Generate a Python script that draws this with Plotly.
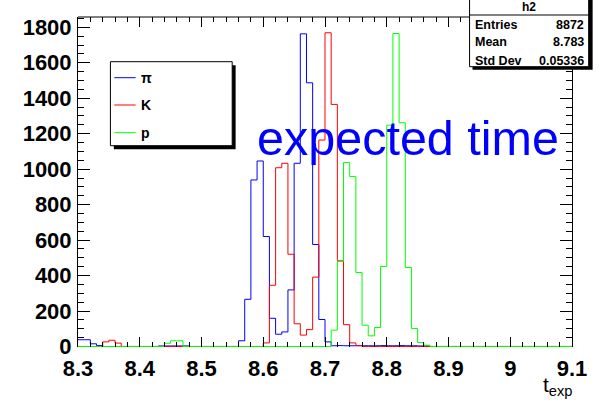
import numpy as np
import plotly.graph_objects as go

# ---------------- data ----------------
x_min, x_max, bin_width = 8.30, 9.10, 0.01
tick_values = [8.3, 8.4, 8.5, 8.6, 8.7, 8.8, 8.9, 9.0, 9.1]
tick_labels = ["8.3", "8.4", "8.5", "8.6", "8.7", "8.8", "8.9", "9", "9.1"]
y_tick_values = [0, 200, 400, 600, 800, 1000, 1200, 1400, 1600, 1800]

series_names = ["\u03c0", "K", "p"]
series_colors = ["#0000ff", "#ff0000", "#00ff00"]

pi_counts = [38, 38, 15, 5, 0, 0, 0, 0, 0, 0,
             0, 0, 0, 3, 3, 3, 3, 3, 0, 0,
             0, 0, 0, 0, 0, 0, 32, 266, 939, 1046,
             620, 159, 69, 82, 319, 1033, 1763, 1487, 575, 152,
             26, 4, 5, 4, 4, 5, 4, 4, 4, 5,
             4, 4, 5, 4, 4, 3, 3, 0, 0, 0,
             0, 0, 0, 0, 0, 0, 0, 0, 0, 0,
             0, 0, 0, 0, 0, 0, 0, 0, 0, 0]
k_counts = [0, 0, 0, 0, 26, 35, 19, 0, 0, 0,
            0, 0, 0, 0, 0, 0, 0, 0, 0, 0,
            0, 0, 0, 0, 0, 0, 0, 0, 0, 0,
            20, 345, 1008, 1033, 520, 128, 64, 95, 391, 1164,
            1769, 1365, 483, 123, 20, 4, 0, 0, 0, 0,
            0, 0, 0, 0, 0, 0, 0, 0, 0, 0,
            0, 0, 0, 0, 0, 0, 0, 0, 0, 0,
            0, 0, 0, 0, 0, 0, 0, 0, 0, 0]
p_counts = [0, 0, 0, 0, 0, 0, 0, 0, 0, 0,
            0, 0, 0, 0, 18, 32, 32, 0, 0, 0,
            0, 0, 0, 0, 0, 0, 0, 0, 0, 0,
            0, 0, 0, 0, 0, 0, 0, 0, 0, 0,
            0, 92, 480, 1037, 958, 417, 120, 60, 107, 451,
            1248, 1765, 1262, 445, 101, 22, 7, 0, 0, 0,
            0, 0, 0, 0, 0, 0, 0, 0, 0, 0,
            0, 0, 0, 0, 0, 0, 0, 0, 0, 0]

stats_title = "h2"
stats_labels = ["Entries", "Mean", "Std Dev"]
stats_values = ["8872", "8.783", "0.05336"]
overlay_text = "expected time"
x_title = "t<sub>exp</sub>"

# ---------------- figure ----------------
W, H = 599, 401
L, R, T, B = 78, 581, 17, 347
PW, PH = R - L, B - T


def X(px):
    return (px - L) / PW


def Y(py):
    return (B - py) / PH


n_bins = len(pi_counts)
edges = np.round(x_min + bin_width * np.arange(n_bins + 1), 4)

fig = go.Figure()
for name, color, counts in zip(series_names, series_colors,
                               [pi_counts, k_counts, p_counts]):
    fig.add_trace(go.Scatter(
        x=edges, y=list(counts) + [counts[-1]], mode="lines",
        line=dict(color=color, width=1, shape="hv"),
        name=name, showlegend=False, hoverinfo="skip"))

tickfont = dict(family="Liberation Sans", size=22, color="black", weight="bold")
fig.update_xaxes(
    range=[x_min, x_max], tickvals=tick_values, ticktext=tick_labels,
    ticks="inside", ticklen=10, tickwidth=1, tickcolor="black",
    showline=False, mirror="allticks", showgrid=False, zeroline=False,
    minor=dict(tick0=x_min, dtick=0.02, ticks="inside", ticklen=5,
               tickcolor="black", showgrid=False),
    tickfont=tickfont, ticklabelstandoff=6)
fig.update_yaxes(
    range=[-3, 1858], tickvals=y_tick_values,
    ticks="inside", ticklen=12, tickwidth=1, tickcolor="black",
    showline=True, linecolor="black", linewidth=1, mirror="allticks",
    showgrid=False, zeroline=False,
    minor=dict(tick0=0, dtick=50, ticks="inside", ticklen=6,
               tickcolor="black", showgrid=False),
    tickfont=tickfont, ticklabelstandoff=1)

shapes = []
# top frame line
shapes.append(dict(type="line", xref="paper", yref="paper", x0=0, x1=1, y0=1, y1=1,
                   line=dict(color="black", width=1), layer="above"))

# legend box with shadow
shapes.append(dict(type="rect", xref="paper", yref="paper",
                   x0=X(114.5), x1=X(238.5), y0=Y(149.2), y1=Y(65.2),
                   fillcolor="black", line=dict(width=0), layer="above"))
shapes.append(dict(type="rect", xref="paper", yref="paper",
                   x0=X(111), x1=X(235), y0=Y(145.7), y1=Y(61.7),
                   fillcolor="white", line=dict(color="black", width=1), layer="above"))
legend_rows = [77.7, 105.0, 132.7]
for color, yr in zip(series_colors, legend_rows):
    shapes.append(dict(type="line", xref="paper", yref="paper",
                       x0=X(115), x1=X(136.7), y0=Y(yr), y1=Y(yr),
                       line=dict(color=color, width=1), layer="above"))

# stats box with shadow
shapes.append(dict(type="rect", xref="paper", yref="paper",
                   x0=X(479.7), x1=X(602), y0=Y(69.7), y1=Y(-10),
                   fillcolor="black", line=dict(width=0), layer="above"))
shapes.append(dict(type="rect", xref="paper", yref="paper",
                   x0=X(476.7), x1=X(598), y0=Y(66.7), y1=Y(-10),
                   fillcolor="white", line=dict(color="black", width=1), layer="above"))
shapes.append(dict(type="line", xref="paper", yref="paper",
                   x0=X(476.7), x1=X(598), y0=Y(15), y1=Y(15),
                   line=dict(color="black", width=1), layer="above"))

annotations = []


def text_at(txt, px, baseline, fs, anchor="left", bold=False, color="black",
            family="Liberation Sans"):
    font = dict(family=family, size=fs, color=color)
    if bold:
        font["weight"] = "bold"
    annotations.append(dict(
        text=txt, xref="paper", yref="paper", x=X(px),
        y=Y(baseline - 0.905 * fs), xanchor=anchor, yanchor="top",
        showarrow=False, font=font, borderpad=0, borderwidth=0))


legend_baselines = [82.5, 110.0, 137.5]
for name, bl in zip(series_names, legend_baselines):
    text_at(name, 141.7, bl, 14, bold=True)

text_at(stats_title, 537.3, 11.0, 12, anchor="center", bold=True)
for lab, val, bl in zip(stats_labels, stats_values, [29.0, 46.7, 65.0]):
    text_at(lab, 482.7, bl, 12.5, bold=True)
    text_at(val, 593.3, bl, 12.5, anchor="right", bold=True)

text_at(overlay_text, 260, 155, 48.5, color="#0000ff")
text_at(x_title, 582, 392, 21, anchor="right")

fig.update_layout(
    width=W, height=H, margin=dict(l=L, r=W - R, t=T, b=H - B),
    paper_bgcolor="white", plot_bgcolor="white",
    shapes=shapes, annotations=annotations, showlegend=False)

fig.write_html("out.html")
